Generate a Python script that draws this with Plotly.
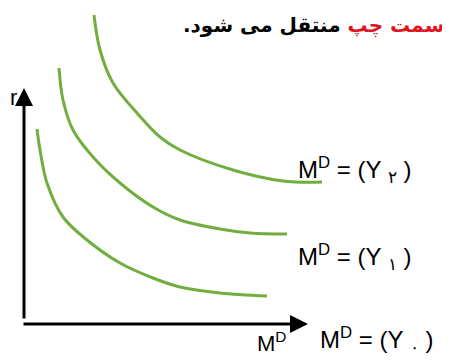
import plotly.graph_objects as go

# Money demand curves (pixel-like units, y grows downward)
md0_x = [37, 40, 47, 63, 87, 120, 153, 180, 220, 267]
md0_y = [129, 150, 183, 217, 240, 263, 278, 287, 293, 296]
md1_x = [59, 63, 73, 93, 120, 153, 180, 220, 250, 287]
md1_y = [68, 100, 130, 157, 183, 207, 220, 229, 233, 234]
md2_x = [94, 100, 113, 137, 160, 180, 233, 283, 322]
md2_y = [15, 50, 83, 113, 137, 150, 170, 181, 182]

curves = [(md0_x, md0_y), (md1_x, md1_y), (md2_x, md2_y)]
curve_labels = ["M<sup>D</sup> = (Y <sub>۰</sub> )",
                "M<sup>D</sup> = (Y <sub>۱</sub> )",
                "M<sup>D</sup> = (Y <sub>۲</sub> )"]
label_pos = [(318, 340), (296, 257), (296, 170)]

GREEN = "#72ae3f"
FONT = "Liberation Sans, Arial, sans-serif"

fig = go.Figure()
for cx, cy in curves:
    fig.add_trace(go.Scatter(x=cx, y=cy, mode="lines", line=dict(color=GREEN, width=3, shape="spline"),
                             hoverinfo="skip", showlegend=False))

# axes with arrows
fig.add_annotation(x=24, y=88, ax=24, ay=320, xref="x", yref="y", axref="x", ayref="y",
                   showarrow=True, arrowhead=2, arrowsize=1.2, arrowwidth=3, arrowcolor="black", text="")
fig.add_annotation(x=308, y=324, ax=22, ay=324, xref="x", yref="y", axref="x", ayref="y",
                   showarrow=True, arrowhead=2, arrowsize=1.2, arrowwidth=3, arrowcolor="black", text="")
fig.add_annotation(x=13, y=97, text="r", showarrow=False, font=dict(size=22, color="black", family=FONT))
fig.add_annotation(x=271, y=342, text="M<sup>D</sup>", showarrow=False,
                   font=dict(size=22, color="black", family=FONT))

for lbl, (lx, ly) in zip(curve_labels, label_pos):
    fig.add_annotation(x=lx, y=ly, text=lbl, showarrow=False, xanchor="left",
                       font=dict(size=24, color="black", family=FONT))

fig.add_annotation(x=446, y=25, xanchor="right", showarrow=False,
                   text="<b><span style='color:#e0141e'>سمت چپ</span> منتقل می شود.\u200f</b>",
                   font=dict(size=20, color="black", family="DejaVu Sans"))

# the page body keeps an 8px margin, so the figure starts at (8, 8)
fig.update_layout(width=442, height=352, margin=dict(l=0, r=0, t=0, b=0),
                  plot_bgcolor="white", paper_bgcolor="white",
                  xaxis=dict(range=[8, 450], visible=False, fixedrange=True),
                  yaxis=dict(range=[360, 8], visible=False, fixedrange=True))
fig.write_html("out.html")
